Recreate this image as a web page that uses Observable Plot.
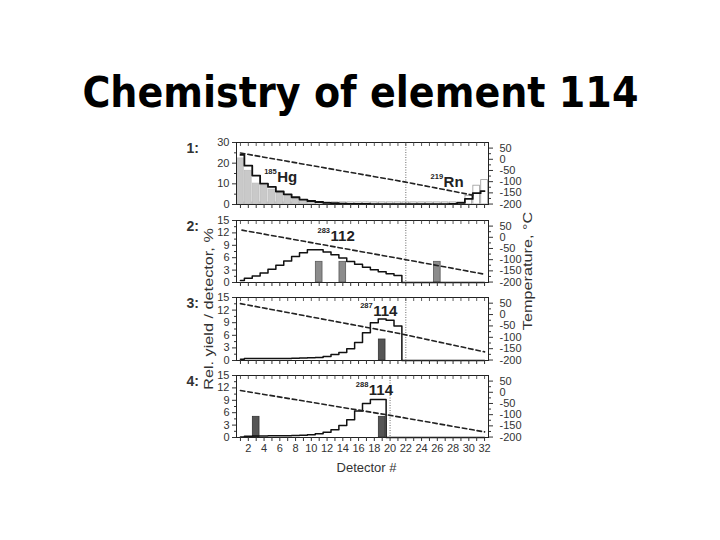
<!DOCTYPE html>
<html><head><meta charset="utf-8">
<script src="https://cdn.jsdelivr.net/npm/d3@7"></script>
<script src="https://cdn.jsdelivr.net/npm/@observablehq/plot@0.6"></script>
<style>
html,body{margin:0;padding:0;background:#fff;}
body{width:720px;height:540px;overflow:hidden;position:relative;font-family:"Liberation Sans",Arial,sans-serif;}
#title{position:absolute;left:0;top:68px;width:720px;text-align:center;font-family:"Comic Sans MS","DejaVu Sans",sans-serif;font-weight:bold;font-size:42px;line-height:50px;white-space:nowrap;color:#000;}
#title span{display:inline-block;transform-origin:center center;}
.vlab{position:absolute;font-size:13px;color:#333;white-space:nowrap;transform:translate(-50%,-50%) rotate(-90deg) scale(1.25,1);}
.panel{position:absolute;left:0;}
</style></head><body>
<div id="title"><span id="tspan">Chemistry of element 114</span></div>
<div class="vlab" style="left:208px;top:309px">Rel. yield / detector, %</div>
<div class="vlab" style="left:527px;top:271px">Temperature, °C</div>
<script>
// ---------- data ----------
const detectorNumbers = [1,2,3,4,5,6,7,8,9,10,11,12,13,14,15,16,17,18,19,20,21,22,23,24,25,26,27,28,29,30,31,32];
const xTickLabels = [2,4,6,8,10,12,14,16,18,20,22,24,26,28,30,32];

// Panel 1: 185Hg (grey bars, det 1-10) and 219Rn (open bars), model step line
const p1HgYield = [22.3,16.3,10.1,9.2,7.2,5.4,4.3,2.8,2.0,1.2];
const p1RnYield = [1,1,1,1,1,1,1,1,1,1,1,1,1,1,1,1,1,1,1,1,1,1,1,1,1,1,1,1,1,4.2,9.1,11.8];
const p1Model = [24,18.8,14,10.1,8.5,6.3,4.9,3.5,2.4,1.7,1.2,0.8,0.6,0.45,0.35,0.3,0.25,0.2,0.2,0.2,0.2,0.2,0.2,0.2,0.2,0.2,0.2,0.3,0.8,2.7,5.5,6.5];
// Panel 2: 283-112
const p2Model = [0.5,1.0,1.6,2.3,3.2,4.2,5.2,6.3,7.2,7.9,7.9,7.4,6.7,5.9,5.1,4.4,3.7,3.1,2.6,2.1,1.7,0,0,0,0,0,0,0,0,0,0,0];
const p2Events = [11,14,26];
// Panel 3: 287-114
const p3Model = [0.3,0.45,0.5,0.5,0.5,0.5,0.5,0.55,0.6,0.65,0.7,0.95,1.4,1.9,2.8,4.3,6.6,9.0,9.9,9.6,8.2,0,0,0,0,0,0,0,0,0,0,0];
const p3Events = [19];
// Panel 4: 288-114
const p4Model = [0.15,0.3,0.35,0.35,0.4,0.4,0.45,0.5,0.55,0.65,0.9,1.3,1.9,2.9,4.3,6.4,8.2,9.2,9.2,0,0,0,0,0,0,0,0,0,0,0,0,0];
const p4Events = [3,19];
const eventYield = 5;

// Temperature profiles (detector, °C)
const p1TempDet = [1,22,30.5], p1Temp = [28,-102,-160];
const p2TempDet = [1.2,22,32],  p2Temp = [32,-100,-165];
const p3TempDet = [1,21,32],    p3Temp = [48,-82,-164];
const p4TempDet = [1,20,32],    p4Temp = [8,-103,-177];

const boundaryDetector = [22,22,22,20];
const p1YTicks = [0,10,20,30], p1YMinor = [5,15,25];
const yTicks15 = [0,3,6,9,12,15], yMinor15 = [1.5,4.5,7.5,10.5,13.5];
const tempTicks = [-200,-150,-100,-50,0,50], tempMinor = [-175,-125,-75,-25,25];

const isotopeLabels = [
  {panel:1, mass:"185", sym:"Hg",  det:5.67,  y:11.1},
  {panel:1, mass:"219", sym:"Rn",  det:26.8,  y:8.7},
  {panel:2, mass:"283", sym:"112", det:12.44, y:10.0},
  {panel:3, mass:"287", sym:"114", det:17.86, y:10.7},
  {panel:4, mass:"288", sym:"114", det:17.3,  y:10.2}
];

// ---------- build ----------
const series = arr => arr.map((v, i) => ({det: detectorNumbers[i], v}));
const temps = (ds, ts) => ds.map((d, i) => ({det: d, t: ts[i]}));

const panels = [
  {num:"1:", top:142, h:62, yMax:30, yTicks:p1YTicks, yMinor:p1YMinor, model:p1Model,
   bars:series(p1HgYield), open:series(p1RnYield), barFill:"#c9c9c9", barStroke:"#bdbdbd",
   temp:temps(p1TempDet,p1Temp)},
  {num:"2:", top:220, h:62, yMax:15, yTicks:yTicks15, yMinor:yMinor15, model:p2Model,
   bars:p2Events.map(d=>({det:d, v:eventYield})), barFill:"#8c8c8c", barStroke:"#5a5a5a",
   temp:temps(p2TempDet,p2Temp)},
  {num:"3:", top:297, h:63, yMax:15, yTicks:yTicks15, yMinor:yMinor15, model:p3Model,
   bars:p3Events.map(d=>({det:d, v:eventYield})), barFill:"#555", barStroke:"#333",
   temp:temps(p3TempDet,p3Temp)},
  {num:"4:", top:375, h:62, yMax:15, yTicks:yTicks15, yMinor:yMinor15, model:p4Model,
   bars:p4Events.map(d=>({det:d, v:eventYield})), barFill:"#555", barStroke:"#333",
   temp:temps(p4TempDet,p4Temp), last:true}
];

const font = "Liberation Sans, Arial, sans-serif";
panels.forEach((p, i) => {
  const mt = 8, mb = p.last ? 44 : 12;
  const common = {
    width: 720, height: p.h + mt + mb,
    marginLeft: 236, marginRight: 232, marginTop: mt, marginBottom: mb,
    style: {background: "transparent", fontFamily: font, fontSize: "11px", color: "#333", overflow: "visible"}
  };
  const labs = isotopeLabels.filter(l => l.panel === i + 1);
  const rect = (data, o) => Plot.rectY(data, {x1: d => d.det - 0.5, x2: d => d.det + 0.5, y: "v", insetLeft: 0.6, insetRight: 0.6, ...o});
  const A = Plot.plot({
    ...common,
    x: {domain: [0.5, 32.5], axis: null},
    y: {domain: [0, p.yMax], axis: null},
    marks: [
      p.open ? rect(p.open, {fill: "white", stroke: "#9a9a9a", strokeWidth: 0.8}) : null,
      rect(p.bars, {fill: p.barFill, stroke: p.barStroke, strokeWidth: 0.8}),
      Plot.line(series(p.model), {x: "det", y: "v", curve: "step", stroke: "#111", strokeWidth: i === 0 ? 1.8 : 1.5}),
      Plot.ruleX([boundaryDetector[i]], {x: d => d, stroke: "#444", strokeWidth: 0.8, strokeDasharray: "1,1.5"}),
      Plot.frame({stroke: "#222", strokeWidth: 1}),
      Plot.tickX(detectorNumbers, {x: d => d, insetBottom: p.h - 4, stroke: "#333", strokeWidth: 0.8}),
      Plot.axisX({ticks: detectorNumbers, tickSize: 4, tickPadding: 3, label: null, stroke: "#333",
        tickFormat: d => (p.last && xTickLabels.includes(d)) ? String(d) : "", fontSize: 11, fill: "#333"}),
      Plot.axisY({ticks: p.yTicks, tickSize: 4, tickPadding: 3, label: null, tickFormat: d => String(d), fontSize: 11, fill: "#333"}),
      Plot.axisY({ticks: p.yMinor, tickSize: 2, label: null, tickFormat: () => ""}),
      Plot.text(labs, {x: "det", y: "y", text: "sym", textAnchor: "start", lineAnchor: "bottom",
        fontSize: 15, fontWeight: "bold", fill: "#222"}),
      Plot.text(labs, {x: "det", y: "y", text: "mass", textAnchor: "end", lineAnchor: "bottom",
        dy: -8, dx: -0.5, fontSize: 7.5, fontWeight: "bold", fill: "#222"}),
      Plot.text([p.num], {text: d => d, frameAnchor: "top-left", dx: -50, dy: 1, textAnchor: "start",
        lineAnchor: "top", fontSize: 14, fontWeight: "bold", fill: "#333"}),
      p.last ? Plot.text(["Detector #"], {text: d => d, frameAnchor: "bottom", dx: 4, dy: 34, fontSize: 13, fill: "#333"}) : null
    ]
  });
  const B = Plot.plot({
    ...common,
    x: {domain: [0.5, 32.5], axis: null},
    y: {domain: [-202, 75], axis: null},
    marks: [
      Plot.line(p.temp, {x: "det", y: "t", stroke: "#222", strokeWidth: 1.6, strokeDasharray: "4.5,3"}),
      Plot.axisY({anchor: "right", ticks: tempTicks, tickSize: 4, tickPadding: 7, label: null,
        tickFormat: d => String(d), fontSize: 11, fill: "#333"}),
      Plot.axisY({anchor: "right", ticks: tempMinor, tickSize: 2, label: null, tickFormat: () => ""})
    ]
  });
  [A, B].forEach(svg => {
    const div = document.createElement("div");
    div.className = "panel";
    div.style.top = (p.top - mt) + "px";
    div.appendChild(svg);
    document.body.appendChild(div);
  });
});

// fit title width
const ts = document.getElementById("tspan");
const w = ts.getBoundingClientRect().width;
ts.style.transform = `scaleX(${556 / w})`;
</script>
</body></html>
